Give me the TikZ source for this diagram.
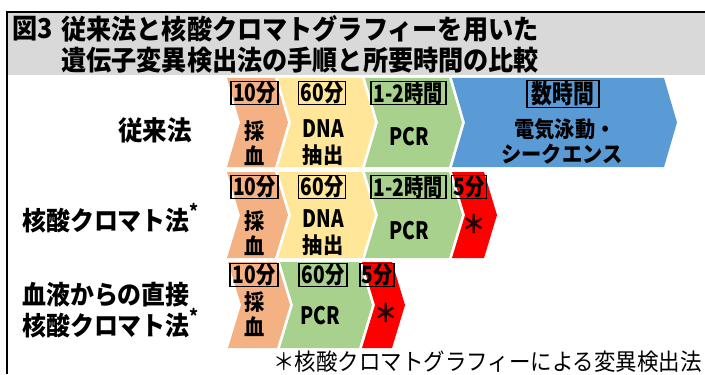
\documentclass[tikz,border=0pt]{standalone}
\usepackage{fontspec}
\setmainfont{Noto Sans CJK JP}[FakeStretch=0.92]
\newfontfamily\jp{Noto Sans CJK JP}[FakeStretch=0.92]
\newfontfamily\jpn{Noto Sans CJK JP}[FakeStretch=0.8]
\definecolor{cOrange}{HTML}{F4B183}
\definecolor{cYellow}{HTML}{FFE699}
\definecolor{cGreen}{HTML}{A9D18E}
\definecolor{cBlue}{HTML}{5B9BD5}
\definecolor{cRed}{HTML}{FF0000}
\definecolor{cGray}{HTML}{D9D9D9}
\newcommand\chevshape[6]{% L R T B d color
  \fill[#6] (#1,#3) -- (#2,#3) -- ({#2+#5},{(#3+#4)/2}) -- (#2,#4) -- (#1,#4) -- ({#1+#5},{(#3+#4)/2}) -- cycle;}
\tikzset{
  tbox/.style={draw=black, line width=0.9pt, inner sep=0pt, minimum height=16pt,
    font=\jpn\bfseries\fontsize{18}{18}\selectfont},
  body/.style={inner sep=0pt, font=\jp\bfseries\fontsize{16.5}{18}\selectfont},
  latin/.style={inner sep=0pt, font=\jpn\bfseries\fontsize{18}{18}\selectfont},
  star/.style={inner sep=0pt, text=black!85!red, font=\jp\bfseries\fontsize{19}{19}\selectfont},
  rowlabel/.style={inner sep=0pt, anchor=west, font=\jp\bfseries\fontsize{19.5}{22}\selectfont},
  titletext/.style={inner sep=0pt, anchor=west, font=\jp\bfseries\fontsize{20.5}{22}\selectfont},
}
\begin{document}
\begin{tikzpicture}[x=0.75pt,y=-0.75pt]
\useasboundingbox (0,0) rectangle (705,374);
% title band and frame
\fill[cGray] (7,12) rectangle (705,75);
\draw[line width=0.8pt] (7,374) -- (7,12) -- (705,12);
\node[titletext] (t0) at (12,29) {図3};
\node[titletext] (t1) at (61,29) {従来法と核酸クロマトグラフィーを用いた};
\node[titletext] (t2) at (61,60) {遺伝子変異検出法の手順と所要時間の比較};
% row 1
\chevshape{227}{275}{78}{167}{13}{cOrange}
\chevshape{278}{362}{78}{167}{13}{cYellow}
\chevshape{365}{449}{78}{167}{13}{cGreen}
\chevshape{452}{664}{78}{167}{13}{cBlue}
% row 2
\chevshape{227}{275}{172}{258}{13}{cOrange}
\chevshape{278}{362}{172}{258}{13}{cYellow}
\chevshape{365}{449}{172}{258}{13}{cGreen}
\chevshape{452}{484}{172}{258}{13}{cRed}
% row 3
\chevshape{228}{277}{262}{348}{13}{cOrange}
\chevshape{280}{359}{262}{348}{13}{cGreen}
\chevshape{362}{392}{262}{348}{13}{cRed}
% row labels
\node[inner sep=0pt, font=\jp\bfseries\fontsize{20}{22}\selectfont] (l1) at (155,130) {従来法};
\node[rowlabel] (l2) at (22,218) {核酸クロマト法\raisebox{0.45em}{\fontsize{14}{14}\selectfont *}};
\node[rowlabel] (l3a) at (22,295) {血液からの直接};
\node[rowlabel] (l3b) at (22,323) {核酸クロマト法\raisebox{0.45em}{\fontsize{14}{14}\selectfont *}};
% row 1 boxes and text
\node[tbox, minimum width=35.25pt] (b11) at (254.5,93) {10分};
\node[tbox, minimum width=35.25pt] (b12) at (322,93) {60分};
\node[tbox, minimum width=56.25pt] (b13) at (408.5,93) {1-2時間};
\node[tbox, minimum width=54pt, minimum height=20pt, font=\jpn\bfseries\fontsize{19.5}{19.5}\selectfont] (b14) at (563,94) {数時間};
\node[body] (s11a) at (255,131) {採};
\node[body] (s11b) at (255,156) {血};
\node[latin] (s12a) at (323,129) {DNA};
\node[body] (s12b) at (323,155) {抽出};
\node[latin] (s13) at (409,137) {PCR};
\node[body] (s14a) at (565,129) {電気泳動・};
\node[body] (s14b) at (562,154) {シークエンス};
% row 2 boxes and text
\node[tbox, minimum width=35.25pt] (b21) at (254.5,187) {10分};
\node[tbox, minimum width=35.25pt] (b22) at (322,187) {60分};
\node[tbox, minimum width=56.25pt] (b23) at (408.5,187) {1-2時間};
\node[tbox, minimum width=26.25pt] (b24) at (469,187) {5分};
\node[body] (s21a) at (255,221) {採};
\node[body] (s21b) at (255,246) {血};
\node[latin] (s22a) at (323,219) {DNA};
\node[body] (s22b) at (323,245) {抽出};
\node[latin] (s23) at (409,231) {PCR};
\node[star] (s24) at (474,224) {＊};
% row 3 boxes and text
\node[tbox, minimum width=36pt, minimum height=15.5pt] (b31) at (254,275) {10分};
\node[tbox, minimum width=36pt, minimum height=15.5pt] (b32) at (323,275) {60分};
\node[tbox, minimum width=25.5pt, minimum height=15.5pt] (b33) at (377,275) {5分};
\node[body] (s31a) at (255,302) {採};
\node[body] (s31b) at (255,327) {血};
\node[latin] (s32) at (320,316) {PCR};
\node[star] (s33) at (386,313) {＊};
% footnote
\node[inner sep=0pt, anchor=east, font=\jp\fontsize{17.5}{18}\selectfont] (fn) at (702,362) {＊核酸クロマトグラフィーによる変異検出法};
\end{tikzpicture}
\end{document}
